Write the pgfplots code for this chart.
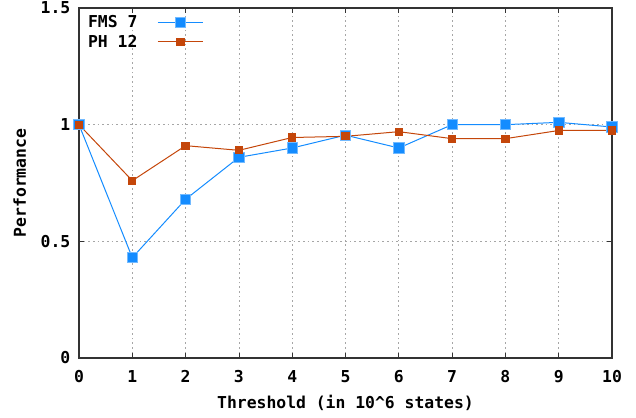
\documentclass[border=0pt]{standalone}
\usepackage{pgfplots}
\pgfplotsset{compat=1.18}
\usepackage{fontspec}
\setmainfont{DejaVu Sans Mono}
\definecolor{fmsblue}{RGB}{20,140,255}
\definecolor{phbrown}{RGB}{196,70,10}
\begin{document}
\begin{tikzpicture}
\begin{axis}[
  scale only axis,
  width=399.75pt, height=262.5pt,
  xmin=0, xmax=10, ymin=0, ymax=1.5,
  xtick={0,1,...,10},
  ytick={0,0.5,1,1.5},
  yticklabels={0,0.5,1,1.5},
  tick align=inside,
  major tick length=4pt,
  axis line style={black!80, line width=0.9pt},
  tick style={black!80, line width=0.6pt},
  grid=major,
  grid style={gray!70, dash pattern=on 1.2pt off 2.3pt, line width=0.6pt},
  /pgf/number format/assume math mode=true,
  ticklabel style={font=\bfseries\fontsize{12.3}{13}\selectfont},
  label style={font=\bfseries\fontsize{12.3}{13}\selectfont},
  xlabel={Threshold (in 10\^{}6 states)},
  ylabel={Performance},
  xlabel style={yshift=-2pt},
  ylabel style={yshift=4pt},
  xticklabel style={yshift=-6pt},
  yticklabel style={xshift=-3pt},
  legend style={draw=none, fill=none, at={(0.004,0.995)}, anchor=north west,
    font=\bfseries\fontsize{12.3}{13}\selectfont, row sep=0pt},
  legend cell align=right,
  legend plot pos=right,
  legend image code/.code={\path (0pt,0pt); \draw[#1] (13pt,0pt) -- (47pt,0pt); \draw[#1, mark repeat=2, mark phase=2] plot coordinates {(13pt,0pt) (30pt,0pt) (47pt,0pt)};},
]
\addplot[fmsblue, line width=0.75pt, mark=square*, mark size=3.9pt, mark options={fill=fmsblue, draw=fmsblue!60, line width=0.6pt}] coordinates {
(0,1.00) (1,0.43) (2,0.68) (3,0.86) (4,0.90) (5,0.955) (6,0.90) (7,1.00) (8,1.00) (9,1.01) (10,0.99)};
\addlegendentry{FMS 7}
\addplot[phbrown, line width=0.75pt, mark=square*, mark size=2.7pt, mark options={fill=phbrown}] coordinates {
(0,1.00) (1,0.76) (2,0.91) (3,0.89) (4,0.945) (5,0.95) (6,0.97) (7,0.94) (8,0.94) (9,0.975) (10,0.975)};
\addlegendentry{PH 12}
\end{axis}
\pgfresetboundingbox
\path[use as bounding box] (-59.25pt,-45pt) rectangle ++(477pt,313.5pt);
\end{tikzpicture}
\end{document}
